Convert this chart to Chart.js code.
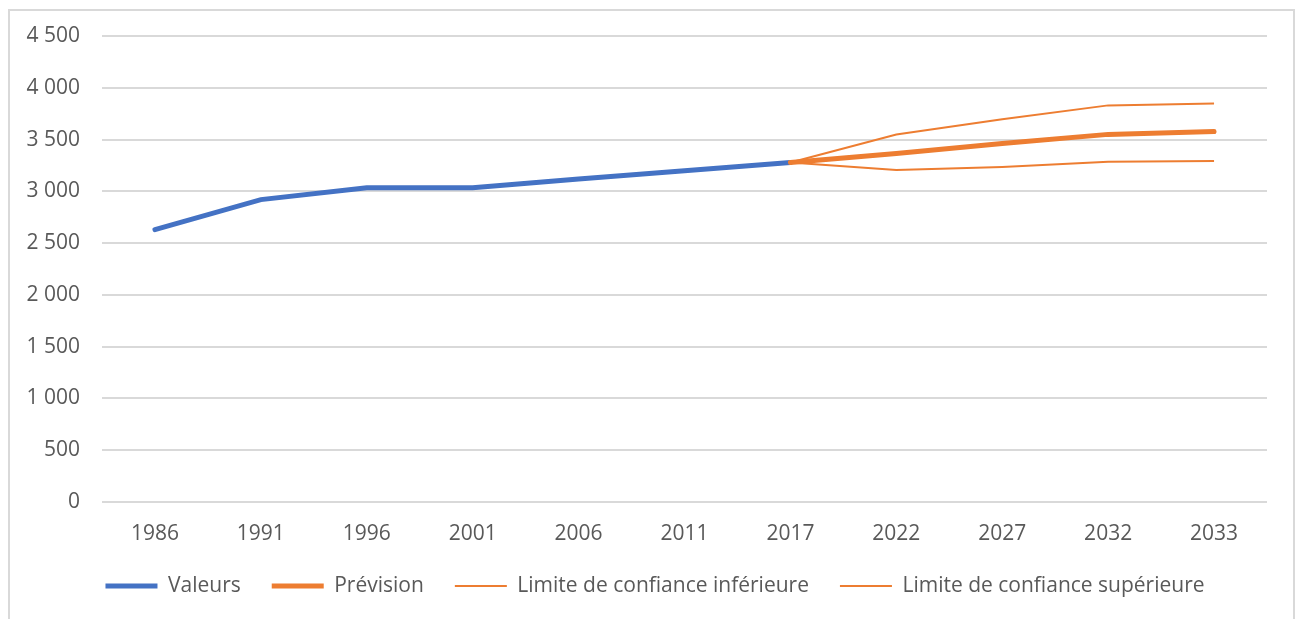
<!DOCTYPE html>
<html>
<head>
<meta charset="utf-8">
<script src="https://cdn.jsdelivr.net/npm/chart.js@4"></script>
<style>
  html, body { margin: 0; padding: 0; background: #ffffff; overflow: hidden; }
  #wrap { position: relative; width: 1297px; height: 619px; overflow: hidden; }
  #frame { position: absolute; left: 8px; top: 9px; width: 1287px; height: 620px; border: 2px solid #d9d9d9; box-sizing: border-box; }
  canvas { position: absolute; left: 0; top: 0; }
</style>
</head>
<body>
<div id="wrap">
  <div id="frame"></div>
  <canvas id="c" width="1297" height="619"></canvas>
</div>
<script>
const categories = ['1986', '1991', '1996', '2001', '2006', '2011', '2017', '2022', '2027', '2032', '2033'];
const valeurs    = [2630, 2920, 3035, 3035, 3120, 3198, 3278, null, null, null, null];
const prevision  = [null, null, null, null, null, null, 3278, 3365, 3462, 3550, 3578];
const limiteInf  = [null, null, null, null, null, null, 3278, 3205, 3235, 3285, 3292];
const limiteSup  = [null, null, null, null, null, null, 3278, 3548, 3695, 3830, 3848];
const yTickLabels = ['0', '500', '1 000', '1 500', '2 000', '2 500', '3 000', '3 500', '4 000', '4 500'];

const FONT = "'Open Sans', 'Noto Sans', sans-serif";
const TEXT = '#595959';
const BLUE = '#4472C4';
const ORANGE = '#ED7D31';

// shift the legend's centring region so it sits under the full frame
const legendShift = {
  id: 'legendShift',
  afterLayout(chart) {
    if (chart.legend) chart.legend.left += 33;
  }
};

new Chart(document.getElementById('c'), {
  type: 'line',
  data: {
    labels: categories,
    datasets: [
      { label: 'Valeurs', data: valeurs, borderColor: BLUE, backgroundColor: BLUE, borderWidth: 5, order: 4, borderCapStyle: 'round' },
      { label: 'Prévision', data: prevision, borderColor: ORANGE, backgroundColor: ORANGE, borderWidth: 5, order: 1, borderCapStyle: 'round' },
      { label: 'Limite de confiance inférieure', data: limiteInf, borderColor: ORANGE, backgroundColor: ORANGE, borderWidth: 2, order: 2 },
      { label: 'Limite de confiance supérieure', data: limiteSup, borderColor: ORANGE, backgroundColor: ORANGE, borderWidth: 2, order: 3 }
    ]
  },
  plugins: [legendShift],
  options: {
    responsive: false,
    animation: false,
    devicePixelRatio: 1,
    layout: { padding: { left: 10, right: 30, top: 36, bottom: 12.5 } },
    elements: { point: { radius: 0, hoverRadius: 0 }, line: { tension: 0 } },
    plugins: {
      tooltip: { enabled: false },
      legend: {
        position: 'bottom',
        labels: {
          sort: (a, b) => a.datasetIndex - b.datasetIndex,
          usePointStyle: true,
          pointStyle: 'line',
          pointStyleWidth: 52,
          boxHeight: 21,
          padding: 31,
          color: TEXT,
          font: { family: FONT, size: 21 }
        }
      }
    },
    scales: {
      x: {
        offset: true,
        grid: { display: false },
        border: { display: false },
        afterFit: (s) => { s.height = 42.5; },
        ticks: { color: TEXT, font: { family: FONT, size: 21 }, padding: 11, maxRotation: 0 }
      },
      y: {
        min: 0, max: 4500,
        grid: { color: '#d9d9d9', lineWidth: 2, drawTicks: false },
        border: { display: false },
        afterFit: (s) => { s.width = 92; },
        ticks: {
          stepSize: 500,
          color: TEXT,
          padding: 22,
          font: { family: FONT, size: 21 },
          callback: (v) => yTickLabels[Math.round(v / 500)]
        }
      }
    }
  }
});
</script>
</body>
</html>
